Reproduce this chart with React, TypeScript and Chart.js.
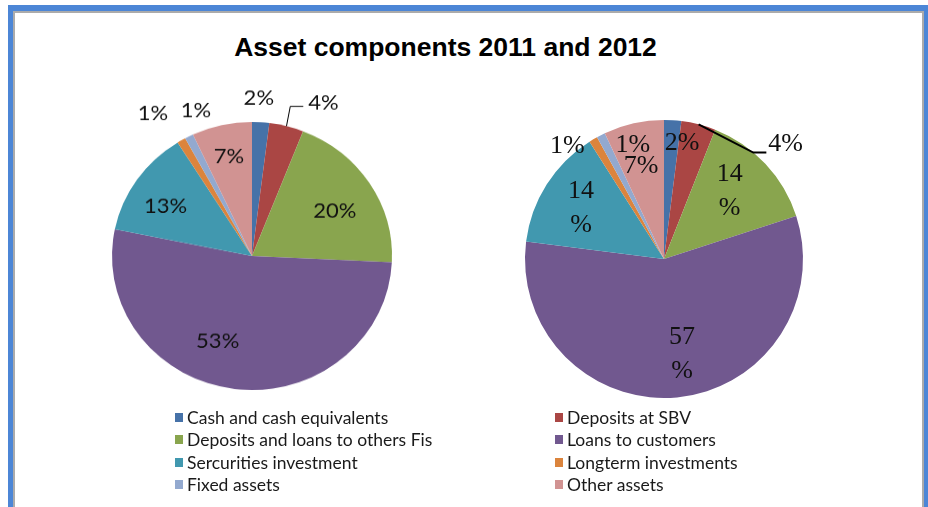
import React, { useEffect, useRef } from "react";
import { Chart, registerables } from "chart.js";

Chart.register(...registerables);

// ---------- data ----------
const titleText = "Asset components 2011 and 2012";
const categories = [
  "Cash and cash equivalents",
  "Deposits at SBV",
  "Deposits and loans to others Fis",
  "Loans to customers",
  "Sercurities investment",
  "Longterm investments",
  "Fixed assets",
  "Other assets",
];
const values2011 = [2, 4, 20, 53, 13, 1, 1, 7];
const values2012 = [2, 4, 14, 57, 14, 1, 1, 7];
const sliceColors = [
  "#4672A8",
  "#AA4644",
  "#89A54E",
  "#71588F",
  "#4198AF",
  "#DB843D",
  "#93A9CF",
  "#D19392",
];

// ---------- label placement (style) ----------
type Leader = { er: number; eda: number; h: number; tx: number; ty: number };
type Place = { r?: number; da?: number; wrap?: boolean; leader?: Leader };

const place2011: Place[] = [
  { r: 1.18, da: -1.2 },
  { leader: { er: 1.15, eda: -0.5, h: 13, tx: 5, ty: -4 } },
  { r: 0.68, da: 3.5 },
  { r: 0.68, da: 14 },
  { r: 0.72, da: -3.9 },
  { r: 1.28, da: -3.3 },
  { r: 1.16, da: 6.5 },
  { r: 0.76, da: 0 },
];
const place2012: Place[] = [
  { r: 0.84, da: 5.3 },
  { leader: { er: 1.0, eda: 25.6, h: 13, tx: 2, ty: -8 } },
  { r: 0.68, da: -2.8, wrap: true },
  { r: 0.7, da: -5.3, wrap: true },
  { r: 0.7, da: -0.9, wrap: true },
  { r: 1.07, da: -9.9 },
  { r: 0.85, da: 11.7 },
  { r: 0.69, da: -1.2 },
];

const sliceLabelPlugin = {
  id: "sliceLabels",
  afterDatasetsDraw(chart: any, _args: any, opts: any) {
    const ctx = chart.ctx as CanvasRenderingContext2D;
    const meta = chart.getDatasetMeta(0);
    const data = chart.data.datasets[0].data as number[];
    const places: Place[] = opts.places || [];
    ctx.save();
    ctx.font = opts.font;
    ctx.fillStyle = opts.color;
    ctx.strokeStyle = opts.lineColor;
    ctx.lineWidth = opts.lineWidth;
    meta.data.forEach((arc: any, i: number) => {
      const p = places[i];
      if (!p) return;
      const { x, y, startAngle, endAngle, outerRadius } = arc.getProps(
        ["x", "y", "startAngle", "endAngle", "outerRadius"],
        true
      );
      const mid = (startAngle + endAngle) / 2;
      const txt = `${data[i]}%`;
      if (p.leader) {
        const L = p.leader;
        const sx = x + Math.cos(mid) * outerRadius;
        const sy = y + Math.sin(mid) * outerRadius;
        const ea = mid + (L.eda * Math.PI) / 180;
        const ex = x + Math.cos(ea) * outerRadius * L.er;
        const ey = y + Math.sin(ea) * outerRadius * L.er;
        ctx.beginPath();
        ctx.moveTo(sx, sy);
        ctx.lineTo(ex, ey);
        ctx.lineTo(ex + L.h, ey);
        ctx.stroke();
        ctx.textAlign = "left";
        ctx.textBaseline = "middle";
        ctx.fillText(txt, ex + L.h + L.tx, ey + L.ty);
      } else {
        const a = mid + ((p.da || 0) * Math.PI) / 180;
        const lx = x + Math.cos(a) * outerRadius * (p.r || 0.7);
        const ly = y + Math.sin(a) * outerRadius * (p.r || 0.7);
        ctx.textAlign = "center";
        ctx.textBaseline = "middle";
        if (p.wrap) {
          ctx.fillText(String(data[i]), lx, ly - opts.lineHeight / 2);
          ctx.fillText("%", lx, ly + opts.lineHeight / 2);
        } else {
          ctx.fillText(txt, lx, ly);
        }
      }
    });
    ctx.restore();
  },
};

type PieProps = {
  values: number[];
  places: Place[];
  radius: number;
  font: string;
  lineWidth: number;
  lineHeight: number;
  left: number;
  top: number;
  scaleY: number;
};

function PieChart(props: PieProps) {
  const ref = useRef<HTMLCanvasElement>(null);
  useEffect(() => {
    const chart = new Chart(ref.current as HTMLCanvasElement, {
      type: "pie",
      data: {
        labels: categories,
        datasets: [
          {
            data: props.values,
            backgroundColor: sliceColors,
            borderWidth: 0,
            radius: props.radius,
          } as any,
        ],
      },
      options: {
        responsive: false,
        animation: false,
        events: [],
        layout: { padding: 0 },
        plugins: {
          legend: { display: false },
          tooltip: { enabled: false },
          title: { display: false },
          sliceLabels: {
            places: props.places,
            font: props.font,
            color: "#111111",
            lineColor: "#000000",
            lineWidth: props.lineWidth,
            lineHeight: props.lineHeight,
          },
        } as any,
      },
      plugins: [sliceLabelPlugin],
    });
    return () => chart.destroy();
  }, []);
  return (
    <canvas
      ref={ref}
      width={400}
      height={400}
      style={{
        position: "absolute",
        left: props.left,
        top: props.top,
        transform: `scaleY(${props.scaleY})`,
        transformOrigin: "50% 50%",
      }}
    />
  );
}

export default function App() {
  const blue = "#4C86D6";
  const gray = "#ABABAB";
  return (
    <div
      style={{
        position: "absolute",
        left: 0,
        top: 0,
        width: 928,
        height: 507,
        background: "#ffffff",
        overflow: "hidden",
      }}
    >
      {/* frame */}
      <div style={{ position: "absolute", left: 8, top: 5, width: 920, height: 6, background: blue }} />
      <div style={{ position: "absolute", left: 8, top: 5, width: 5, height: 502, background: blue }} />
      <div style={{ position: "absolute", left: 924, top: 5, width: 4, height: 502, background: blue }} />
      <div
        style={{
          position: "absolute",
          left: 13,
          top: 11,
          width: 907,
          height: 496,
          borderLeft: `2px solid ${gray}`,
          borderTop: `2px solid ${gray}`,
          borderRight: `2px solid ${gray}`,
        }}
      />

      {/* title */}
      <div
        style={{
          position: "absolute",
          left: 0,
          top: 31,
          width: 891,
          textAlign: "center",
          fontFamily: "'Liberation Sans', Arial, sans-serif",
          fontWeight: "bold",
          fontSize: 26.5,
          lineHeight: "32px",
          color: "#000",
        }}
      >
        {titleText}
      </div>

      <PieChart
        values={values2011}
        places={place2011}
        radius={140}
        font="22px Lato"
        lineWidth={1}
        lineHeight={26}
        left={52}
        top={56}
        scaleY={0.957}
      />
      <PieChart
        values={values2012}
        places={place2012}
        radius={139}
        font="26px 'Liberation Serif'"
        lineWidth={2}
        lineHeight={34}
        left={464}
        top={59}
        scaleY={1}
      />

      {/* legend */}
      <div
        style={{
          position: "absolute",
          left: 175,
          top: 406,
          display: "grid",
          gridTemplateColumns: "380px 380px",
          gridAutoRows: "22.5px",
          fontFamily: "Lato, sans-serif",
          fontSize: 17.5,
          color: "#1a1a1a",
        }}
      >
        {categories.map((c, i) => (
          <div key={c} style={{ display: "flex", alignItems: "center", whiteSpace: "nowrap" }}>
            <span
              style={{
                display: "inline-block",
                width: 8,
                height: 9,
                background: sliceColors[i],
                marginRight: 4,
              }}
            />
            <span>{c}</span>
          </div>
        ))}
      </div>
    </div>
  );
}
